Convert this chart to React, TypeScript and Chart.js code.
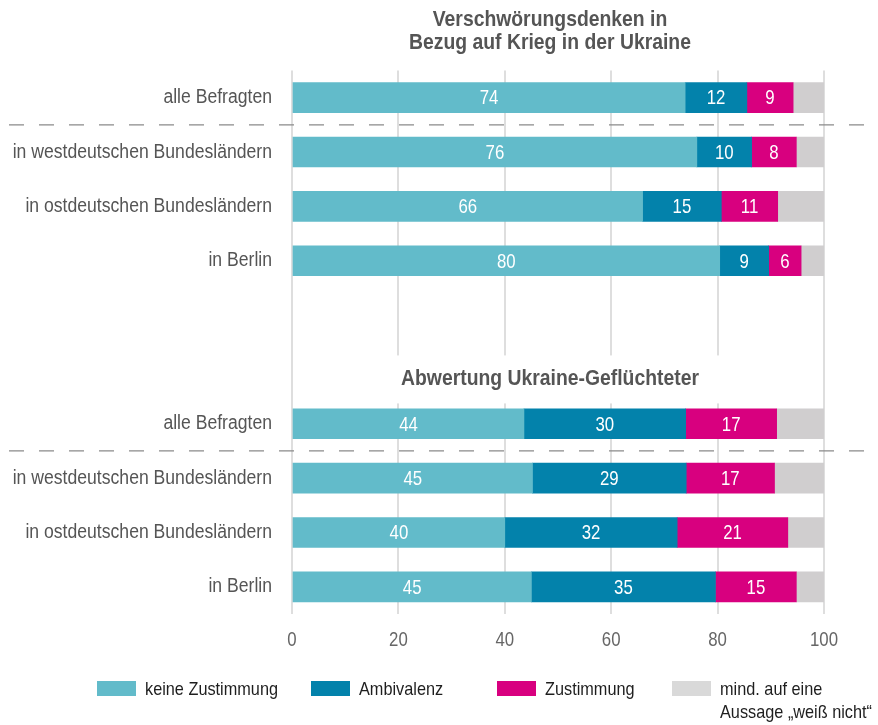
import React, { useEffect, useRef } from "react";
import { Chart, registerables } from "chart.js";

Chart.register(...registerables);

const FONT = "'Liberation Sans', Arial, sans-serif";

const categories = [
  "alle Befragten",
  "in westdeutschen Bundesländern",
  "in ostdeutschen Bundesländern",
  "in Berlin",
  "",
  "",
  "alle Befragten",
  "in westdeutschen Bundesländern",
  "in ostdeutschen Bundesländern",
  "in Berlin",
];

const seriesNames = ["keine Zustimmung", "Ambivalenz", "Zustimmung", "mind. auf eine\nAussage „weiß nicht“"];
const seriesColors = ["#62bbca", "#0382ab", "#d8007f", "#d0cecf"];
const legendColors = ["#62bbca", "#0382ab", "#d8007f", "#d9d9d9"];

const keineZustimmung = [73.9, 76.1, 65.9, 80.4, null, null, 43.6, 45.2, 40.0, 45.0];
const ambivalenz = [11.6, 10.3, 14.8, 9.2, null, null, 30.4, 28.9, 32.4, 34.6];
const zustimmung = [8.7, 8.4, 10.6, 6.1, null, null, 17.1, 16.6, 20.8, 15.2];
const weissNicht = [5.8, 5.2, 8.7, 4.3, null, null, 8.9, 9.3, 6.8, 5.2];

const xTicks = [0, 20, 40, 60, 80, 100];

const title1 = ["Verschwörungsdenken in", "Bezug auf Krieg in der Ukraine"];
const title2 = "Abwertung Ukraine-Geflüchteter";
const title2Row = 5;
const dividerAfterRows = [0, 6];

function cText(ctx: any, text: string, x: number, y: number, align: string, font: string, sx: number, color: string) {
  ctx.save();
  ctx.font = font;
  ctx.fillStyle = color;
  ctx.textAlign = align;
  ctx.textBaseline = "middle";
  ctx.translate(x, y);
  ctx.scale(sx, 1);
  ctx.fillText(text, 0, 0);
  ctx.restore();
}

const overlayPlugin = {
  id: "overlay",
  beforeDatasetsDraw(chart: any) {
    const { ctx, chartArea, scales } = chart;
    const y = scales.y;
    const yc = y.getPixelForValue(title2Row);
    ctx.save();
    ctx.fillStyle = "#ffffff";
    ctx.fillRect(chartArea.left + 2, yc - 14, chartArea.right - chartArea.left - 4, 48);
    ctx.restore();
  },
  afterDatasetsDraw(chart: any) {
    const { ctx, scales } = chart;
    const y = scales.y;
    const x = scales.x;
    // value labels
    for (let d = 0; d < 3; d++) {
      const meta = chart.getDatasetMeta(d);
      const ds = chart.data.datasets[d];
      meta.data.forEach((bar: any, i: number) => {
        const v = ds.data[i];
        if (v == null) return;
        const p = bar.getCenterPoint();
        cText(ctx, String(Math.round(v)), p.x, p.y + 1, "center", `21px ${FONT}`, 0.8, "#ffffff");
      });
    }
    // category labels
    chart.data.labels.forEach((lab: string, i: number) => {
      if (!lab) return;
      cText(ctx, lab, 272, y.getPixelForValue(i), "right", `20px ${FONT}`, 0.88, "#555555");
    });
    // x tick labels
    xTicks.forEach((v) => {
      cText(ctx, String(v), x.getPixelForValue(v), 640, "center", `21px ${FONT}`, 0.8, "#666666");
    });
    // dashed dividers
    ctx.save();
    ctx.strokeStyle = "#8a8a8a";
    ctx.lineWidth = 1.3;
    ctx.setLineDash([15, 15]);
    dividerAfterRows.forEach((r) => {
      const yy = (y.getPixelForValue(r) + y.getPixelForValue(r + 1)) / 2;
      ctx.beginPath();
      ctx.moveTo(9, yy);
      ctx.lineTo(878, yy);
      ctx.stroke();
    });
    ctx.restore();
    // titles
    const cx = 550;
    const tf = `bold 22px ${FONT}`;
    cText(ctx, title1[0], cx, 20, "center", tf, 0.88, "#555555");
    cText(ctx, title1[1], cx, 43, "center", tf, 0.88, "#555555");
    cText(ctx, title2, cx, y.getPixelForValue(title2Row) + 10, "center", tf, 0.88, "#555555");
    // legend
    const lx = [97, 311, 497, 672];
    chart.data.datasets.forEach((ds: any, i: number) => {
      ctx.save();
      ctx.fillStyle = legendColors[i];
      ctx.fillRect(lx[i], 681, 39, 15);
      ctx.restore();
      const lines = String(ds.label).split("\n");
      lines.forEach((ln: string, k: number) => {
        cText(ctx, ln, lx[i] + 48, 690 + k * 23, "left", `18.5px ${FONT}`, 0.88, "#1e1e1e");
      });
    });
  },
};

export default function App() {
  const ref = useRef<HTMLCanvasElement>(null);
  useEffect(() => {
    if (!ref.current) return;
    const datasets = [keineZustimmung, ambivalenz, zustimmung, weissNicht].map((data, i) => ({
      label: seriesNames[i],
      data,
      backgroundColor: seriesColors[i],
      borderWidth: 0,
      barThickness: 30,
    }));
    const chart = new Chart(ref.current, {
      type: "bar",
      data: { labels: categories, datasets },
      plugins: [overlayPlugin],
      options: {
        indexAxis: "y",
        animation: false,
        responsive: false,
        maintainAspectRatio: false,
        layout: { padding: { top: 70.5, right: 54, left: 0, bottom: 0 } },
        plugins: { legend: { display: false }, tooltip: { enabled: false }, title: { display: false } },
        scales: {
          x: {
            stacked: true,
            min: 0,
            max: 100,
            afterFit: (s: any) => {
              s.height = 111;
            },
            afterBuildTicks: (s: any) => {
              s.ticks = xTicks.map((v) => ({ value: v }));
            },
            grid: { color: "#dedede", lineWidth: 2, drawTicks: false },
            border: { display: false },
            ticks: { display: false },
          },
          y: {
            stacked: true,
            afterFit: (s: any) => {
              s.width = 292;
            },
            grid: { display: false, drawTicks: false },
            border: { display: false },
            ticks: { display: false, autoSkip: false },
          },
        },
      },
    });
    return () => chart.destroy();
  }, []);
  return (
    <div style={{ position: "fixed", left: 0, top: 0, width: 878, height: 725, background: "#fff" }}>
      <canvas ref={ref} width={878} height={725} />
    </div>
  );
}
